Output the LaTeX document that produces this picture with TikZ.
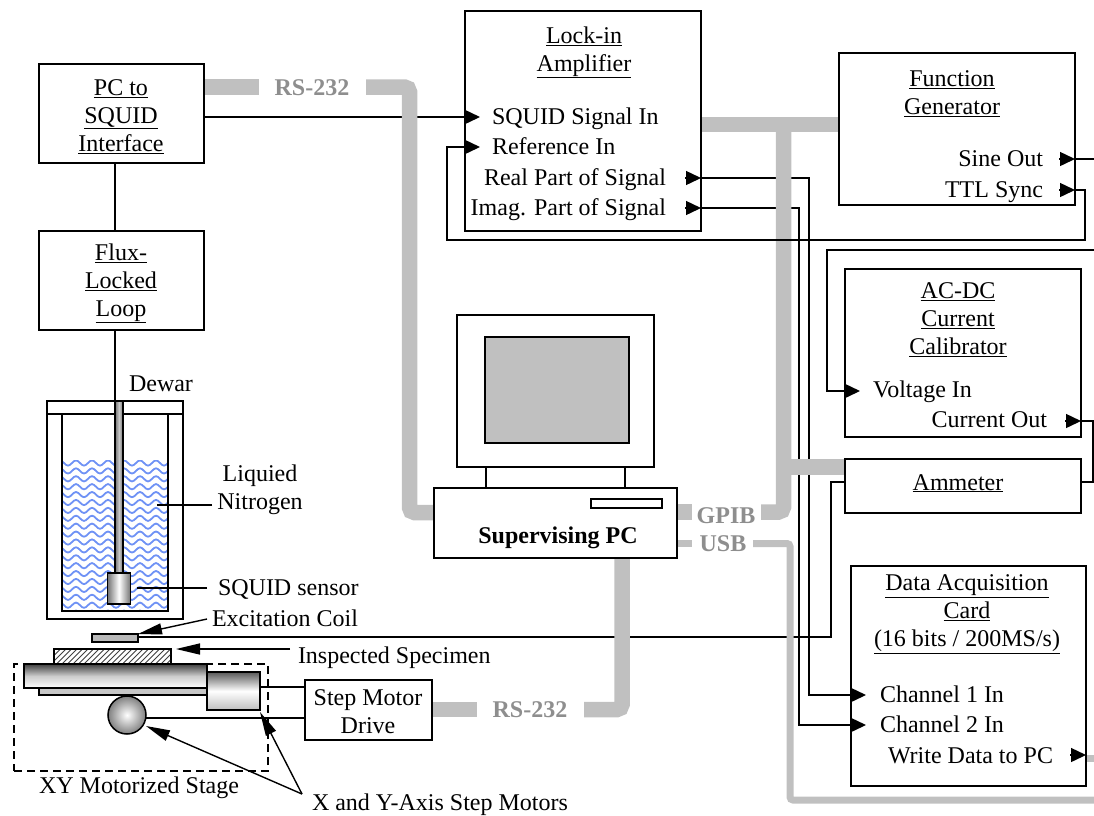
\documentclass[tikz,border=0pt]{standalone}
\usepackage{fontspec}
\setmainfont{Liberation Serif}
\usetikzlibrary{arrows.meta,patterns,shadings}
\definecolor{bus}{HTML}{C0C0C0}
\definecolor{buslabel}{HTML}{8E8E8E}
\definecolor{wave}{HTML}{6F92F5}
\tikzset{
  boxst/.style={draw=black,line width=1.5pt,fill=white,inner sep=0pt,outer sep=0pt},
  txt/.style={font=\fontsize{24}{28}\selectfont,inner sep=0pt,outer sep=0pt,align=center,yshift=-2.3pt},
  txtb/.style={font=\fontsize{24}{28}\selectfont,inner sep=0pt,outer sep=0pt,anchor=base},
  txtl/.style={txtb,anchor=base west},
  txtr/.style={txtb,anchor=base east},
  buslbl/.style={font=\fontsize{24}{28}\selectfont\bfseries,text=buslabel,inner sep=0pt,outer sep=0pt,anchor=base},
  wire/.style={draw=black,line width=1.4pt,line join=miter},
  port/.style={wire,-{Triangle[length=15pt,width=14pt]}},
  lead/.style={draw=black,line width=1.4pt,-{Triangle[length=24pt,width=11pt]}},
  busthick/.style={draw=bus,line width=15.5pt,rounded corners=5pt},
  busthin/.style={draw=bus,line width=7pt,rounded corners=3pt},
}
\newcommand{\rbox}[6][]{\node[boxst,#1,minimum width={(#5-#3)*1pt},minimum height={(#6-#4)*1pt}] (#2) at ({(#3+#5)/2},{(#4+#6)/2}) {};}
\newcommand{\ul}[1]{\underline{#1}}
\begin{document}
\begin{tikzpicture}[x=1pt,y=-1pt]
\useasboundingbox (0,0) rectangle (1094,815);
% ---- port coordinates
\coordinate (rs1a) at (204,87);
\coordinate (rs1b) at (259,87);
\coordinate (rs1c) at (366,87);
\coordinate (rs1d) at (409.5,87);
\coordinate (rs1e) at (409.5,512.5);
\coordinate (rs1f) at (434,512.5);
\coordinate (sqout) at (204,117);
\coordinate (sqin) at (480,117);
\coordinate (refin) at (480,147);
\coordinate (refc) at (447,147);
\coordinate (refd) at (447,240);
\coordinate (ttlc) at (1085,240);
\coordinate (ttlout) at (1075,190);
\coordinate (ttlb) at (1085,190);
\coordinate (ttlhead) at (1059,190);
\coordinate (sinehead) at (1059,159);
\coordinate (sinetip) at (1075,159);
\coordinate (sineend) at (1094,159);
\coordinate (realhead) at (685,178);
\coordinate (realtip) at (701,178);
\coordinate (realc) at (809,178);
\coordinate (reald) at (809,695);
\coordinate (ch1tip) at (866,695);
\coordinate (imaghead) at (685,208);
\coordinate (imagtip) at (701,208);
\coordinate (imagc) at (799,208);
\coordinate (imagd) at (799,725);
\coordinate (ch2tip) at (866,725);
\coordinate (vfree) at (1094,250);
\coordinate (vb) at (827,250);
\coordinate (vc) at (827,391);
\coordinate (vtip) at (860,391);
\coordinate (curhead) at (1065,421);
\coordinate (curtip) at (1081,421);
\coordinate (curb) at (1093,421);
\coordinate (curc) at (1093,482);
\coordinate (amr) at (1081,482);
\coordinate (aml) at (845,482);
\coordinate (amb) at (831,482);
\coordinate (amc) at (831,637);
\coordinate (coilr) at (138,637);
\coordinate (wrhead) at (1070,755);
\coordinate (wrtip) at (1086,755);
\coordinate (wrend) at (1094,758);
% ---- black wires (behind the buses)
\draw[wire] (115,163) -- (115,231);
\draw[wire] (115,330) -- (115,401);
\draw[wire] (sqout) -- (sqin);
\draw[wire] (realtip) -- (realc) -- (reald) -- (ch1tip);
\draw[wire] (imagtip) -- (imagc) -- (imagd) -- (ch2tip);
\draw[wire] (coilr) -- (amc) -- (amb) -- (aml);
% ---- buses
\draw[busthick] (rs1a) -- (rs1b);
\draw[busthick] (rs1c) -- (rs1d) -- (rs1e) -- (rs1f);
\coordinate (tl) at (701,124.5);
\coordinate (tr) at (839,124.5);
\coordinate (tm) at (783.5,124.5);
\coordinate (gb) at (783.5,512);
\coordinate (gl) at (761,512);
\coordinate (gs1) at (677,512);
\coordinate (gs2) at (692,512);
\coordinate (am1) at (783.5,467);
\coordinate (am2) at (845,467);
\draw[draw=bus,line width=15.5pt] (tl) -- (tr);
\draw[busthick] (tm) -- (gb) -- (gl);
\draw[draw=bus,line width=15.5pt] (am1) -- (am2);
\draw[draw=bus,line width=15.5pt] (gs1) -- (gs2);
\coordinate (us1) at (677,543.5);
\coordinate (us2) at (692,543.5);
\coordinate (us3) at (753,543.5);
\coordinate (us4) at (790,543.5);
\coordinate (us5) at (790,800);
\coordinate (us6) at (1094,800);
\draw[draw=bus,line width=7pt] (us1) -- (us2);
\draw[busthin] (us3) -- (us4) -- (us5) -- (us6);
\draw[busthick] (622,558) -- (622,709.5) -- (584,709.5);
\draw[draw=bus,line width=15.5pt] (432,709.5) -- (477,709.5);
\draw[draw=bus,line width=7pt] (1082,758) -- (wrend);
% wire that runs over the buses
\draw[wire] (ttlout) -- (ttlb) -- (ttlc) -- (refd) -- (refc) -- (465,147);
\draw[wire] (vfree) -- (vb) -- (vc) -- (845,391);
\draw[wire] (curtip) -- (curb) -- (curc) -- (amr);
\draw[wire] (sinetip) -- (sineend);
% ---- boxes
\rbox{pcsq}{39}{64}{204}{163}
\rbox{fll}{39}{231}{204}{330}
\rbox{lockin}{465}{11}{701}{231}
\rbox{funcgen}{839}{53}{1075}{205}
\rbox{acdc}{845}{269}{1081}{437}
\rbox{ammeter}{845}{459}{1081}{513}
\rbox{daq}{851}{566}{1086}{786}
\rbox{drive}{305}{680}{432}{740}
\rbox{monitor}{457}{315}{654}{467}
\rbox[fill=bus]{screen}{485}{337}{629}{443}
\rbox{pc}{434}{488}{677}{558}
\rbox{slot}{591}{499}{662}{508}
\draw[wire] (486,467) -- (486,488);
\draw[wire] (625,467) -- (625,488);
% ---- arrowheads
\draw[port] (470,117) -- (sqin);
\draw[port] (470,147) -- (refin);
\draw[port] (realhead) -- (realtip);
\draw[port] (imaghead) -- (imagtip);
\draw[port] (ttlhead) -- (ttlout);
\draw[port] (sinehead) -- (sinetip);
\draw[port] (840,391) -- (vtip);
\draw[port] (curhead) -- (curtip);
\draw[port] (840,695) -- (ch1tip);
\draw[port] (840,725) -- (ch2tip);
\draw[port] (wrhead) -- (wrtip);
% ---- box texts
\node[txt] (tpcsq) at (121,114) {\ul{PC to}\\\ul{SQUID}\\\ul{Interface}};
\node[txt] (tfll) at (121,281) {\ul{Flux-}\\\ul{Locked}\\\ul{Loop}};
\node[txt] (tlock) at (584,50) {\ul{Lock-in}\\\ul{Amplifier}};
\node[txtl] (tsq) at (492,124) {SQUID Signal In};
\node[txtl] (tref) at (492,154.5) {Reference In};
\node[txtr] (treal) at (666,185) {Real Part of Signal};
\node[txtr] (timag) at (666,215) {Imag. Part of Signal};
\node[txt] (tfg) at (952,91) {\ul{Function}\\\ul{Generator}};
\node[txtr] (tsine) at (1043,166) {Sine Out};
\node[txtr] (tttl) at (1043,197) {TTL Sync};
\node[txt] (tac) at (958,317) {\ul{AC-DC}\\\ul{Current}\\\ul{Calibrator}};
\node[txtl] (tv) at (873,397) {Voltage In};
\node[txtr] (tc) at (1047,427) {Current Out};
\node[txtb] (tam) at (958,490) {\ul{Ammeter}};
\node[txt] (tdaq) at (967,611.5) {\ul{Data Acquisition}\\\ul{Card}\\\ul{(16 bits / 200MS/s)}};
\node[txtl] (tc1) at (880,702) {Channel 1 In};
\node[txtl] (tc2) at (880,732) {Channel 2 In};
\node[txtr] (tw) at (1053,763) {Write Data to PC};
\node[txtb,font=\fontsize{24}{28}\selectfont\bfseries] (tpc) at (558,543) {Supervising PC};
\node[txt] (tdrive) at (368,709) {Step Motor\\Drive};
% ---- bus labels
\node[buslbl] (l1) at (312,95) {RS-232};
\node[buslbl] (l2) at (530,717) {RS-232};
\node[buslbl] (l3) at (726,523) {GPIB};
\node[buslbl] (l4) at (723,551) {USB};
% ---- dewar
\node[draw=black,line width=1.5pt,inner sep=0pt,outer sep=0pt,minimum width=136pt,minimum height=218pt] (dewar) at (115,510) {};
\draw[wire] (47,414) -- (183,414);
\begin{scope}
\clip (63,460) rectangle (167,610);
\foreach \r in {0,...,19}{
  \draw[wave,line width=1.8pt] plot[domain=60:170,samples=56,smooth] (\x,{463+\r*7.9+2.6*sin(22.5*\x)});
}
\end{scope}
\draw[line width=1.6pt] (62,414) -- (62,611) -- (168,611) -- (168,414);
\node[inner sep=0pt,outer sep=0pt,draw=black,line width=1.3pt,minimum width=8pt,minimum height=172pt,left color=black!55,right color=black!55,middle color=black!22] (rod) at (119,487) {};
\node[inner sep=0pt,outer sep=0pt,draw=black,line width=1.5pt,minimum width=23pt,minimum height=31pt,left color=black!55,right color=black!55,middle color=white] (sensor) at (119,588.5) {};
\node[txtb] (tdew) at (161,391) {Dewar};
\node[txt] (tliq) at (260,487) {Liquied\\Nitrogen};
\node[txtl] (tsens) at (218,595) {SQUID sensor};
\node[txtl] (texc) at (212,626) {Excitation Coil};
\node[txtl] (tins) at (298,663) {Inspected Specimen};
\coordinate (liqp) at (157,505);
\coordinate (sensp) at (137,588);
\draw[wire] (212,505) -- (liqp);
\draw[wire] (207,588) -- (sensp);
% ---- coil, specimen, stage
\draw[lead] (207,619) -- (coilr |- 0,634);
\node[draw=black,line width=1.5pt,fill=gray!55,inner sep=0pt,outer sep=0pt,minimum width=46pt,minimum height=8pt] (coil) at (115,638) {};
\draw[lead] (290,649) -- (176,649);
\draw[draw=black,line width=1.4pt,fill=white] (54,664) rectangle (171,649);
\begin{scope}
\clip (55,650) rectangle (170,663);
\foreach \h in {0,5.5,...,150}{
  \draw[black!75,line width=1pt] (40+\h,664) -- (55+\h,649);
}
\end{scope}
\node[draw=black,dashed,dash pattern=on 8pt off 5pt,line width=1.4pt,inner sep=0pt,minimum width=254pt,minimum height=107pt] (stage) at (141,717.5) {};
\draw[wire] (260,687) -- (305,687);
\draw[wire] (146,718) -- (305,718);
\node[inner sep=0pt,outer sep=0pt,draw=black,line width=1.5pt,minimum width=183pt,minimum height=24pt,top color=black!75,bottom color=white,middle color=black!20] (plate) at (115.5,676) {};
\node[inner sep=0pt,outer sep=0pt,draw=black,line width=1.5pt,fill=black!22,minimum width=168pt,minimum height=7pt] (lower) at (123,691.5) {};
\node[inner sep=0pt,outer sep=0pt,draw=black,line width=1.5pt,minimum width=53pt,minimum height=38pt,top color=black!65,bottom color=black!25,middle color=white] (motor) at (233.5,691) {};
\node[circle,inner sep=0pt,outer sep=0pt,draw=black,line width=1.5pt,minimum size=38pt,shading=radial,inner color=white,outer color=black!50] (ball) at (127,715) {};
\node[txtb] (tstage) at (139,793) {XY Motorized Stage};
\node[txtl] (tmot) at (312,810) {X and Y-Axis Step Motors};
\coordinate (mfork) at (302,794);
\draw[lead] (mfork) -- (146,726);
\draw[lead] (mfork) -- (260,712);
\end{tikzpicture}
\end{document}
